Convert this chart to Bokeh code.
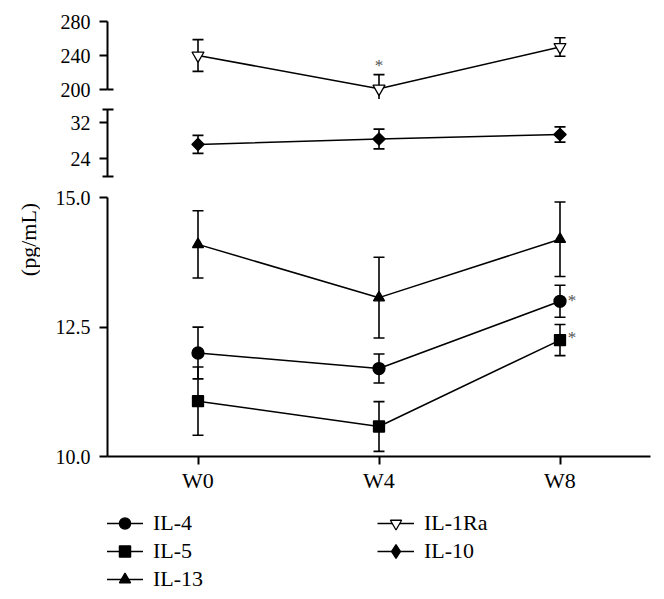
import numpy as np
from bokeh.plotting import figure
from bokeh.models import Range1d, FixedTicker, PrintfTickFormatter, Legend, LegendItem, Label
from bokeh.layouts import column, row
from bokeh.embed import file_html
from bokeh.resources import INLINE
from bokeh.core.properties import value

# ---------------- data ----------------
weeks = ["W0", "W4", "W8"]
x_pos = [0, 1, 2]

il4_mean = [12.0, 11.7, 13.0]
il4_sd = [0.50, 0.28, 0.31]
il5_mean = [11.07, 10.58, 12.25]
il5_sd = [0.66, 0.48, 0.30]
il13_mean = [14.10, 13.07, 14.20]
il13_sd = [0.65, 0.78, 0.72]
il1ra_mean = [240.0, 201.0, 250.0]
il1ra_sd = [18.7, 16.5, 10.8]
il10_mean = [27.2, 28.4, 29.4]
il10_sd = [2.0, 2.2, 1.7]

top_ticks = [200, 240, 280]
mid_ticks = [24, 32]
mid_bounds = [20, 35]
bot_ticks = [10.0, 12.5, 15.0]

# ---------------- layout constants ----------------
FONT = "Liberation Serif"
LABW = 40
LEFT = 67
FRAME_W = 543
RIGHT = 6
W = LEFT + FRAME_W + RIGHT
YFS = "20px"
XFS = "22px"
LFS = "22px"
STAR = "#555555"
STAR_FS = "17px"

xr = Range1d(-0.5, 2.5)


def make_fig(height, yr, top=0, bottom=0, xaxis=False):
    p = figure(width=W, height=height, x_range=xr, y_range=yr,
               toolbar_location=None, output_backend="svg",
               x_axis_location="below" if xaxis else None,
               min_border_left=LEFT, min_border_right=RIGHT,
               min_border_top=top, min_border_bottom=bottom)
    p.grid.visible = False
    p.outline_line_color = None
    p.background_fill_color = "white"
    p.border_fill_color = "white"
    return p


def style_yaxis(p, ticks, minor, bounds, fmt=None, minor_in=6, minor_out=0):
    ax = p.yaxis[0]
    ax.ticker = FixedTicker(ticks=ticks, minor_ticks=minor)
    ax.bounds = tuple(bounds)
    ax.axis_line_width = 2
    ax.axis_line_color = "black"
    ax.major_tick_line_width = 2
    ax.minor_tick_line_width = 2
    ax.major_tick_out = 8
    ax.major_tick_in = 0
    ax.minor_tick_in = minor_in
    ax.minor_tick_out = minor_out
    ax.major_label_standoff = 9
    ax.major_label_text_font = FONT
    ax.major_label_text_font_size = YFS
    ax.major_label_text_color = "black"
    if fmt:
        ax.formatter = PrintfTickFormatter(format=fmt)


def draw_errors(p, mean, sd):
    lower = [m - s for m, s in zip(mean, sd)]
    upper = [m + s for m, s in zip(mean, sd)]
    p.segment(x0=x_pos, y0=lower, x1=x_pos, y1=upper, line_color="black", line_width=1.6)
    p.scatter(x=x_pos, y=lower, marker="dash", size=11, line_color="black", line_width=1.6)
    p.scatter(x=x_pos, y=upper, marker="dash", size=11, line_color="black", line_width=1.6)
    p.line(x=x_pos, y=mean, line_color="black", line_width=1.5)


def draw_marks(p, mean, marker, size, fill="black", angle=0.0):
    p.scatter(x=x_pos, y=mean, marker=marker, size=size, fill_color=fill,
              line_color="black", line_width=1.3, angle=angle)


# pixel geometry (page coords): value -> pixel anchors
# top segment: 280 at 21, 200 at 89 ; frame 12..99
tp = (89 - 21) / (280 - 200)
top_r = Range1d(200 - (99 - 89) / tp, 280 + (21 - 12) / tp)
# mid segment: 32 at 122.3, 24 at 158.3 ; frame 99..186
mp = (158.3 - 122.3) / 8
mid_r = Range1d(24 - (186 - 158.3) / mp, 32 + (122.3 - 99) / mp)
# bottom segment: 15 at 197.3, 10 at 456 ; frame 186..456
bp = (456 - 197.3) / 5
bot_r = Range1d(10, 15 + (197.3 - 186) / bp)

# ---------- top ----------
pt = make_fig(99, top_r, top=12)
style_yaxis(pt, top_ticks, [200], [200, 280])
draw_errors(pt, il1ra_mean, il1ra_sd)
draw_marks(pt, il1ra_mean, "inverted_triangle", 12, fill="white")
pt.text(x=[x_pos[1]], y=[il1ra_mean[1] + il1ra_sd[1]], text=["*"],
        text_font=value(FONT), text_font_size=STAR_FS, text_color=STAR,
        text_align="center", text_baseline="alphabetic", y_offset=-9)

# ---------- middle ----------
pm = make_fig(87, mid_r)
style_yaxis(pm, mid_ticks, mid_bounds, mid_bounds, minor_in=6, minor_out=5)
draw_errors(pm, il10_mean, il10_sd)
draw_marks(pm, il10_mean, "square", 8.7, angle=np.pi / 4)

# ---------- bottom ----------
pb = make_fig(310, bot_r, bottom=40, xaxis=True)
style_yaxis(pb, bot_ticks, [], [10, 15], fmt="%.1f")
xa = pb.xaxis[0]
xa.ticker = FixedTicker(ticks=x_pos, minor_ticks=[])
xa.major_label_overrides = {x: w for x, w in zip(x_pos, weeks)}
xa.axis_line_width = 2
xa.major_tick_line_width = 2
xa.major_tick_out = 8
xa.major_tick_in = 0
xa.major_label_standoff = 3
xa.major_label_text_font = FONT
xa.major_label_text_font_size = XFS
xa.major_label_text_color = "black"

for m, s in [(il13_mean, il13_sd), (il4_mean, il4_sd), (il5_mean, il5_sd)]:
    draw_errors(pb, m, s)
draw_marks(pb, il13_mean, "triangle", 11)
draw_marks(pb, il4_mean, "circle", 12)
draw_marks(pb, il5_mean, "square", 11)
pb.text(x=[x_pos[2], x_pos[2]], y=[il4_mean[2], il5_mean[2]], text=["*", "*"],
        text_font=value(FONT), text_font_size=STAR_FS, text_color=STAR,
        text_align="center", text_baseline="alphabetic",
        x_offset=12, y_offset=[-1, -3])

# ---------- y-axis title (spans the broken axis) ----------
H_STACK = 99 + 87 + 310
plab = figure(width=LABW, height=H_STACK, x_range=Range1d(0, 1), y_range=Range1d(0, 1),
              toolbar_location=None, output_backend="svg",
              x_axis_location=None, y_axis_location=None,
              min_border_left=0, min_border_right=0, min_border_top=0, min_border_bottom=0)
plab.grid.visible = False
plab.outline_line_color = None
plab.add_layout(Label(x=27.5, y=H_STACK - 239, x_units="screen", y_units="screen", text="(pg/mL)",
                      angle=np.pi / 2, text_align="center", text_baseline="middle",
                      text_font=FONT, text_font_size="22px", text_color="black"))

# ---------- legend ----------
LEG_H = 98
pl = figure(width=LABW + W, height=LEG_H, x_range=Range1d(-10, -9), y_range=Range1d(-10, -9),
            toolbar_location=None, output_backend="svg",
            x_axis_location=None, y_axis_location=None,
            min_border_left=LABW + LEFT, min_border_right=RIGHT, min_border_top=0, min_border_bottom=0)
pl.grid.visible = False
pl.outline_line_color = None


def leg_item(label, mean, marker, size, fill="black"):
    rl = pl.line(x=x_pos, y=mean, line_color="black", line_width=1.5)
    rm = pl.scatter(x=x_pos, y=mean, marker=marker, size=size, fill_color=fill,
                    line_color="black", line_width=1.3)
    return LegendItem(label=label, renderers=[rl, rm])


items1 = [leg_item("IL-4", il4_mean, "circle", 12), leg_item("IL-5", il5_mean, "square", 11),
          leg_item("IL-13", il13_mean, "triangle", 11)]
items2 = [leg_item("IL-1Ra", il1ra_mean, "inverted_triangle", 12, fill="white")]
items3 = [leg_item("IL-10", il10_mean, "diamond", 12)]


def make_legend(items, loc, gh=28):
    return Legend(items=items, location=loc, padding=0, margin=0, spacing=0,
                  glyph_width=37, glyph_height=gh, label_height=gh, label_standoff=10,
                  label_text_font=FONT, label_text_font_size=LFS, label_text_color="black",
                  border_line_color=None, background_fill_alpha=0)


# legend rows centred at page y 523, 551, 579 ; legend figure frame spans 496..594
pl.add_layout(make_legend(items1, (-1, 594 - (523 - 14) - 84)))
pl.add_layout(make_legend(items2, (270, 594 - (523 - 14) - 28)))
pl.add_layout(make_legend(items3, (270, 594 - (551 - 17) - 34), gh=34))

layout = column(row(plab, column(pt, pm, pb, spacing=0), spacing=0), pl, spacing=0)
open("out.html", "w").write(file_html(layout, INLINE))
